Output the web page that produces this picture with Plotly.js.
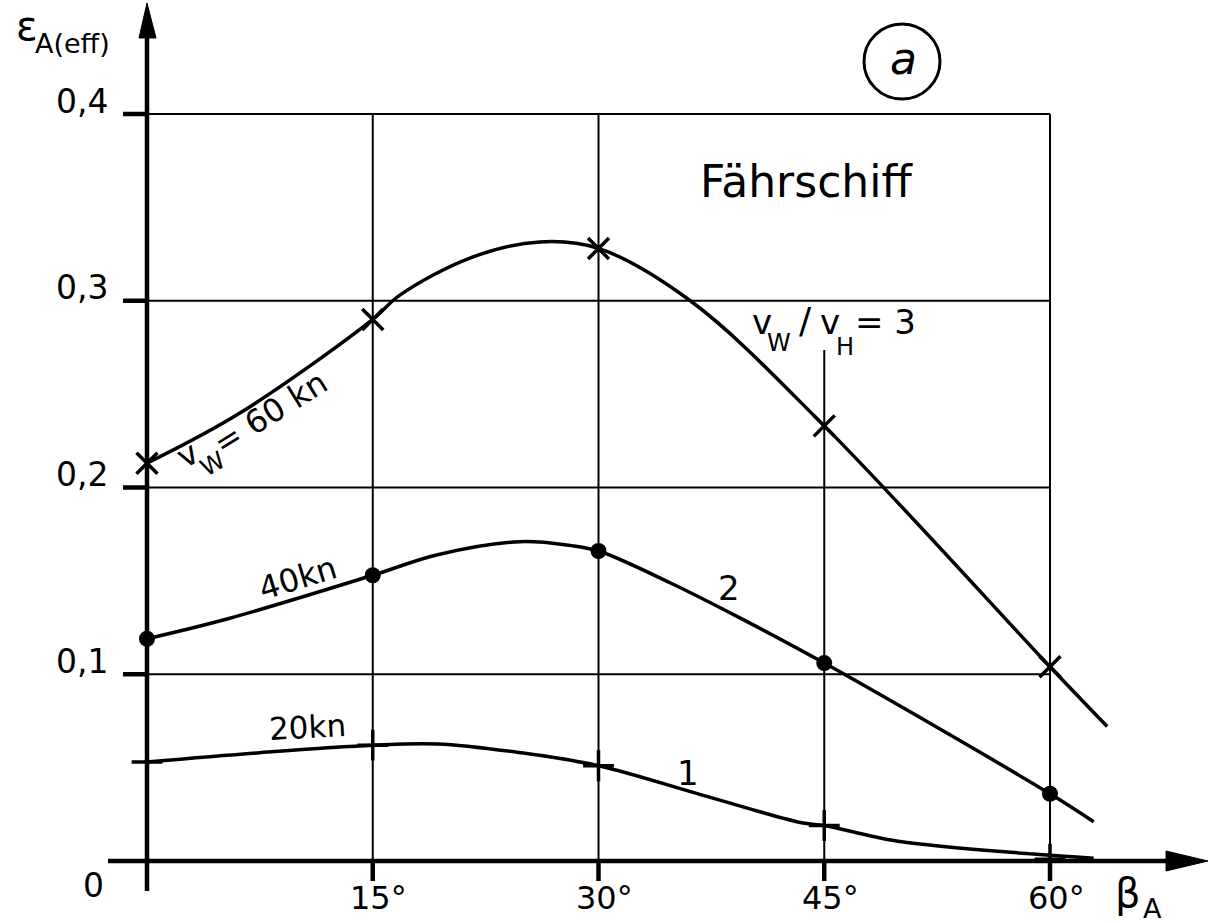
<!DOCTYPE html>
<html>
<head>
<meta charset="utf-8">
<script src="https://cdn.plot.ly/plotly-3.0.1.min.js"></script>
<style>html,body{margin:0;padding:0;background:#fff;}#chart{width:1210px;height:923px;}</style>
</head>
<body>
<div id="chart"></div>
<script>
// ---- data ----
const angles = [0, 15, 30, 45, 60];            // beta_A in degrees (measured points)
const eps60 = [0.213, 0.290, 0.328, 0.233, 0.104]; // v_W = 60 kn (x markers)
const eps40 = [0.119, 0.153, 0.166, 0.106, 0.036]; // 40 kn (dots)
const eps20 = [0.053, 0.062, 0.051, 0.019, 0.001]; // 20 kn (plus)

// points
const curve60X = [0, 6.2, 15, 16.8, 21.5, 26.1, 30, 36.1, 45, 60, 63.8];
const curve60Y = [0.213, 0.240, 0.290, 0.303, 0.323, 0.3315, 0.328, 0.300, 0.233, 0.104, 0.072];
const curve40X = [0, 5.5, 15, 19.3, 24.8, 28.1, 30, 34.75, 39.2, 45, 60, 62.9];
const curve40Y = [0.119, 0.130, 0.153, 0.164, 0.171, 0.169, 0.166, 0.149, 0.131, 0.106, 0.036, 0.021];
const curve20X = [0, 7.5, 15, 19.3, 24.8, 30, 36.9, 43.6, 45, 49.8, 58.9, 62.9];
const curve20Y = [0.053, 0.058, 0.062, 0.0627, 0.058, 0.051, 0.0353, 0.0203, 0.019, 0.0107, 0.0037, 0.0015];

const xTicks = [15, 30, 45, 60];
const xTickText = ['15°', '30°', '45°', '60°'];
const yTicks = [0.1, 0.2, 0.3, 0.4];
const yTickText = ['0,1', '0,2', '0,3', '0,4'];
const xGridTop = [0.4, 0.4, 0.2736, 0.4];

// ---- pixel helpers for decorations (plot area = whole figure) ----
const PXX = 15.05, PXY = 1867.5, X0 = 147, Y0 = 861;
const dx = px => (px - X0) / PXX;
const dy = py => (Y0 - py) / PXY;

const FONT = 'DejaVu Sans';
const K = '#000';

const lineStyle = {color: K, width: 3.5, shape: 'spline', smoothing: 1};
const traces = [
  {x: curve60X, y: curve60Y, mode: 'lines', line: lineStyle, hoverinfo: 'skip'},
  {x: curve40X, y: curve40Y, mode: 'lines', line: lineStyle, hoverinfo: 'skip'},
  {x: curve20X, y: curve20Y, mode: 'lines', line: lineStyle, hoverinfo: 'skip'},
  {x: angles, y: eps60, mode: 'markers', cliponaxis: false,
   marker: {symbol: 'x-thin', size: 21, color: K, line: {color: K, width: 3.5}}},
  {x: angles, y: eps40, mode: 'markers', cliponaxis: false,
   marker: {symbol: 'circle', size: 16, color: K}},
  {x: angles, y: eps20, mode: 'markers', cliponaxis: false,
   marker: {symbol: 'cross-thin', size: 22, color: K, line: {color: K, width: 3.5}}}
];

const shapes = [];
// horizontal grid lines
yTicks.forEach(v => shapes.push({type: 'line', layer: 'below', x0: 0, x1: xTicks[xTicks.length - 1], y0: v, y1: v, line: {color: K, width: 2}}));
// vertical grid lines
xTicks.forEach((v, i) => shapes.push({type: 'line', layer: 'below', x0: v, x1: v, y0: 0, y1: xGridTop[i], line: {color: K, width: 2}}));
// y tick marks
yTicks.forEach(v => shapes.push({type: 'line', x0: dx(123), x1: 0, y0: v, y1: v, line: {color: K, width: 4.5}}));
// x tick marks
xTicks.forEach(v => shapes.push({type: 'line', x0: v, x1: v, y0: 0, y1: dy(881), line: {color: K, width: 4.5}}));
// axes
shapes.push({type: 'line', x0: dx(108), x1: dx(1172), y0: 0, y1: 0, line: {color: K, width: 4.5}});
shapes.push({type: 'line', x0: 0, x1: 0, y0: dy(891), y1: dy(32), line: {color: K, width: 4.5}});
// arrowheads
shapes.push({type: 'path', path: `M ${dx(1208)},${dy(861)} L ${dx(1166)},${dy(851)} L ${dx(1166)},${dy(871)} Z`, fillcolor: K, line: {color: K, width: 1}});
shapes.push({type: 'path', path: `M ${dx(147)},${dy(3)} L ${dx(139)},${dy(38)} L ${dx(156)},${dy(38)} Z`, fillcolor: K, line: {color: K, width: 1}});
// circle around "a"
shapes.push({type: 'circle', x0: dx(864), x1: dx(940), y0: dy(24), y1: dy(99), line: {color: K, width: 3}});

const ann = [];
const txt = (x, y, text, size, extra, fontExtra) => ann.push(Object.assign({x: x, y: y, text: text, showarrow: false,
  font: Object.assign({family: FONT, size: size, color: K}, fontExtra || {})}, extra || {}));

yTicks.forEach((v, i) => txt(dx(110), v, yTickText[i], 33, {xanchor: 'right', yanchor: 'middle', yshift: 13}));
xTicks.forEach((v, i) => txt(v, dy(898), xTickText[i], 32, {xanchor: 'center', yanchor: 'middle', xshift: 6}));
txt(dx(93), dy(885), '0', 33);
// axis labels (main symbol + subscript)
txt(dx(27), dy(26), 'ε', 40);
txt(dx(72), dy(43), 'A(eff)', 27);
txt(dx(1128), dy(893), 'β', 40);
txt(dx(1152), dy(908), 'A', 27);
// circled a
txt(dx(903), dy(58), 'a', 44, {}, {style: 'italic'});
txt(dx(806), dy(181), 'Fährschiff', 44);
// v_W / v_H = 3
txt(dx(762), dy(322), 'v', 34);
txt(dx(779), dy(343), 'W', 24);
txt(dx(805), dy(320), '/', 36);
txt(dx(830), dy(322), 'v', 34);
txt(dx(845), dy(347), 'H', 24);
txt(dx(885), dy(322), '= 3', 34);
// v_W = 60 kn along the curve
txt(dx(187), dy(455), 'v', 32, {textangle: -30});
txt(dx(213), dy(464), 'W', 24, {textangle: -30});
txt(dx(270), dy(413), '= 60 kn', 32, {textangle: -32});
txt(dx(298), dy(578), '40kn', 32, {textangle: -17});
txt(dx(307), dy(727), '20kn', 31, {textangle: -3});
txt(dx(729), dy(588), '2', 34);
txt(dx(688), dy(773), '1', 34);

const layout = {
  width: 1210, height: 923, autosize: false,
  margin: {l: 0, r: 0, t: 0, b: 0, pad: 0},
  paper_bgcolor: '#fff', plot_bgcolor: '#fff',
  showlegend: false,
  xaxis: {range: [dx(0), dx(1210)], visible: false, fixedrange: true},
  yaxis: {range: [dy(923), dy(0)], visible: false, fixedrange: true},
  shapes: shapes,
  annotations: ann
};

Plotly.newPlot('chart', traces, layout, {staticPlot: true, displayModeBar: false});
</script>
</body>
</html>
